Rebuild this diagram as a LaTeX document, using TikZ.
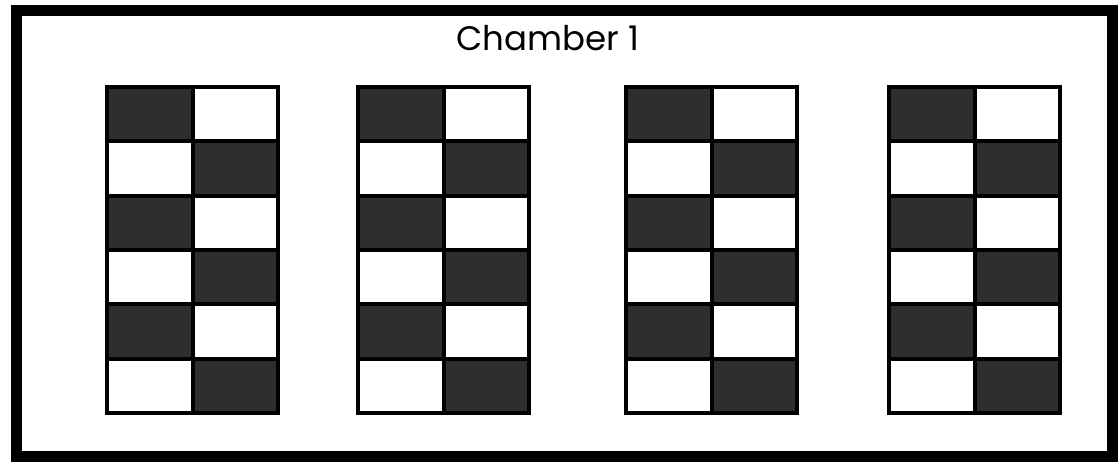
\documentclass[tikz,border=0pt]{standalone}
\usepackage{fontspec}
\setmainfont{Poppins}
\tikzset{
  frame/.style={draw=black, line width=11pt},
  gridline/.style={draw=black, line width=4pt},
  darkcell/.style={fill=black!82},
  lightcell/.style={fill=white}
}
\begin{document}
\begin{tikzpicture}[x=1pt,y=-1pt]
\useasboundingbox (0,0) rectangle (1120,461);
\fill[white] (0,0) rectangle (1120,461);
\draw[frame] (16,10) rectangle (1112,456);
\node[font=\fontsize{34}{38}\selectfont, anchor=base, inner sep=0pt] (title) at (548,50) {Chamber 1};
\def\gw{171}
\def\gtop{87}
\def\rh{54.333}
\foreach \gx [count=\g] in {107,358,626,889}{
  \foreach \r in {0,...,5}{
    \pgfmathtruncatemacro{\odd}{mod(\r,2)}
    \ifnum\odd=0
      \fill[darkcell] (\gx,\gtop+\r*\rh) rectangle (\gx+\gw/2,\gtop+\r*\rh+\rh);
    \else
      \fill[darkcell] (\gx+\gw/2,\gtop+\r*\rh) rectangle (\gx+\gw,\gtop+\r*\rh+\rh);
    \fi
  }
  \draw[gridline] (\gx,\gtop) rectangle (\gx+\gw,\gtop+6*\rh);
  \draw[gridline] (\gx+\gw/2,\gtop) -- (\gx+\gw/2,\gtop+6*\rh);
  \foreach \r in {1,...,5}{
    \draw[gridline] (\gx,\gtop+\r*\rh) -- (\gx+\gw,\gtop+\r*\rh);
  }
}
\end{tikzpicture}
\end{document}
